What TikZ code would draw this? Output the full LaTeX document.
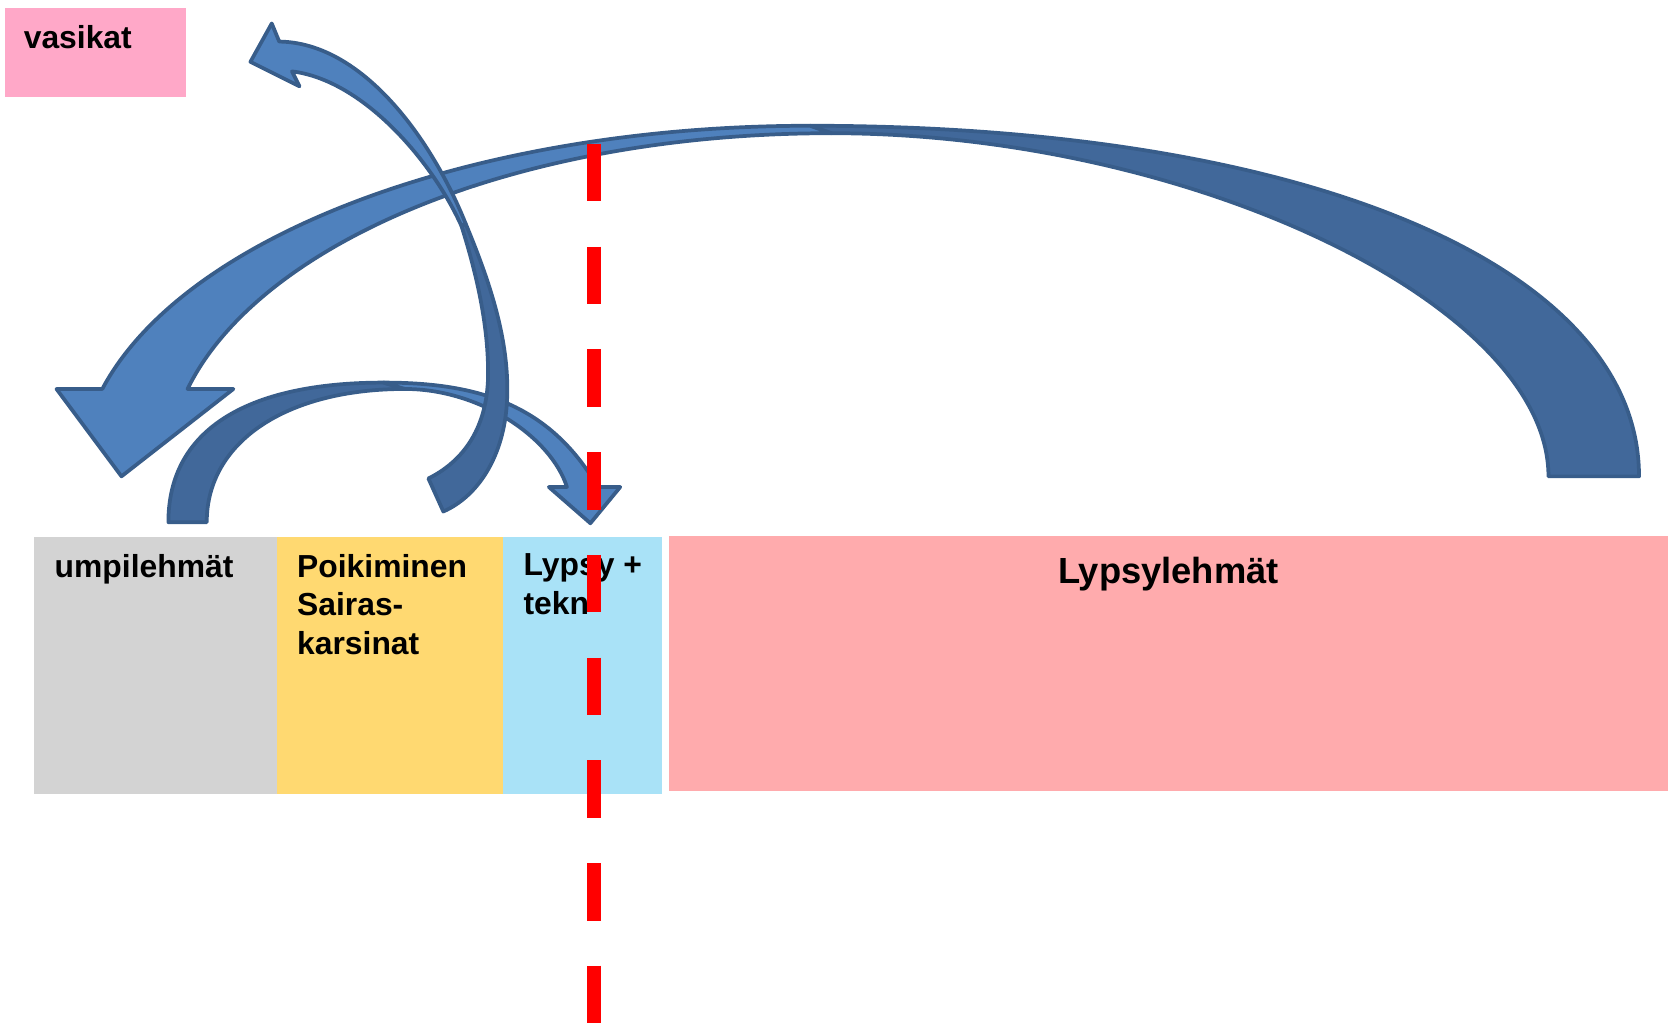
\documentclass[tikz,border=0pt]{standalone}
\usepackage{fontspec}
\setmainfont{Liberation Sans}
\usepackage{tikz}
\usetikzlibrary{positioning}
\usepackage{xcolor}

\definecolor{calfpink}{RGB}{255,168,200}
\definecolor{drygray}{RGB}{211,211,211}
\definecolor{calvyellow}{RGB}{255,217,113}
\definecolor{parlourblue}{RGB}{169,226,247}
\definecolor{milkpink}{RGB}{255,171,173}
\definecolor{arrowfill}{RGB}{79,129,189}
\definecolor{arrowback}{RGB}{65,104,154}
\definecolor{arrowline}{RGB}{56,93,138}

\begin{document}
\begin{tikzpicture}[
    x=0.2mm, y=-0.2mm,
    box/.style={rectangle, inner sep=0pt, anchor=north west},
    lbl/.style={font=\bfseries\fontsize{17}{20.6}\selectfont, inner sep=0pt, align=left},
    biglbl/.style={font=\bfseries\fontsize{19.4}{23}\selectfont, inner sep=0pt},
    ribbon/.style={fill=arrowfill, draw=arrowline, line width=0.7mm, line join=round},
    backside/.style={ribbon, fill=arrowback},
    cutline/.style={draw=red, line width=2.6mm, dash pattern=on 10.8mm off 8.48mm}
]
\useasboundingbox (0,0) rectangle (1568,967);

% Boxes
\node[box, fill=calfpink, minimum width=34mm, minimum height=16.8mm] (calves) at (4,7) {};
\node[box, fill=drygray, minimum width=45.6mm, minimum height=48.2mm] (dry) at (32,504) {};
\node[box, fill=calvyellow, minimum width=42.4mm, minimum height=48.2mm] (calving) at (260,504) {};
\node[box, fill=parlourblue, minimum width=29.8mm, minimum height=48.2mm] (parlour) at (472,504) {};
\node[box, fill=milkpink, minimum width=187.6mm, minimum height=47.8mm] (milking) at (627,503) {};

% Labels
\node[lbl, below right=3.3mm and 3.6mm of calves.north west] (calveslbl) {vasikat};
\node[lbl, below right=3.1mm and 3.8mm of dry.north west] (drylbl) {umpilehmät};
\node[lbl, below right=3.1mm and 3.7mm of calving.north west] (calvinglbl) {Poikiminen\\Sairas-\\karsinat};
\node[lbl, below right=3.1mm and 3.8mm of parlour.north west] (parlourlbl) {Lypsy +\\tekn};
\node[biglbl, below=3.9mm of milking.north] (milkinglbl) {Lypsylehmät};

% Lypsylehmät -> umpilehmät
\filldraw[backside] (760,118) .. controls (1227,118) and (1538,250) .. (1538,447)
    -- (1453,447) .. controls (1453,286) and (1116,125) .. (780,125) -- cycle;
\filldraw[ribbon] (760,118) .. controls (446,118) and (173,220) .. (96,365)
    -- (53,365) -- (114,447) -- (219,365) -- (176,365)
    .. controls (242,230) and (480,125) .. (780,125) -- cycle;

% umpilehmät -> Lypsy
\filldraw[backside] (158,490) .. controls (158,405) and (229,359) .. (360,359)
    -- (380,365) .. controls (268,365) and (194,415) .. (194,490) -- cycle;
\filldraw[ribbon] (360,359) .. controls (450,359) and (516,380) .. (561,457)
    -- (582,457) -- (554,491) -- (515,457) -- (532,457)
    .. controls (517,410) and (450,365) .. (380,365) -- cycle;

% Poikiminen -> vasikat
\filldraw[backside] (437,210) .. controls (462,270) and (477,320) .. (476,370)
    .. controls (475,425) and (450,465) .. (416,480) -- (402,449)
    .. controls (440,430) and (458,395) .. (458,350)
    .. controls (458,300) and (445,250) .. (433,212) -- cycle;
\filldraw[ribbon] (433,212) .. controls (405,150) and (340,75) .. (274,67)
    -- (281,81) -- (235,58) -- (255,22) -- (262,39)
    .. controls (340,40) and (405,130) .. (437,210) -- cycle;

% cut line
\coordinate (cuttop) at (557,135);
\coordinate (cutbot) at (557,960);
\draw[cutline] (cuttop) -- (cutbot);
\end{tikzpicture}
\end{document}
